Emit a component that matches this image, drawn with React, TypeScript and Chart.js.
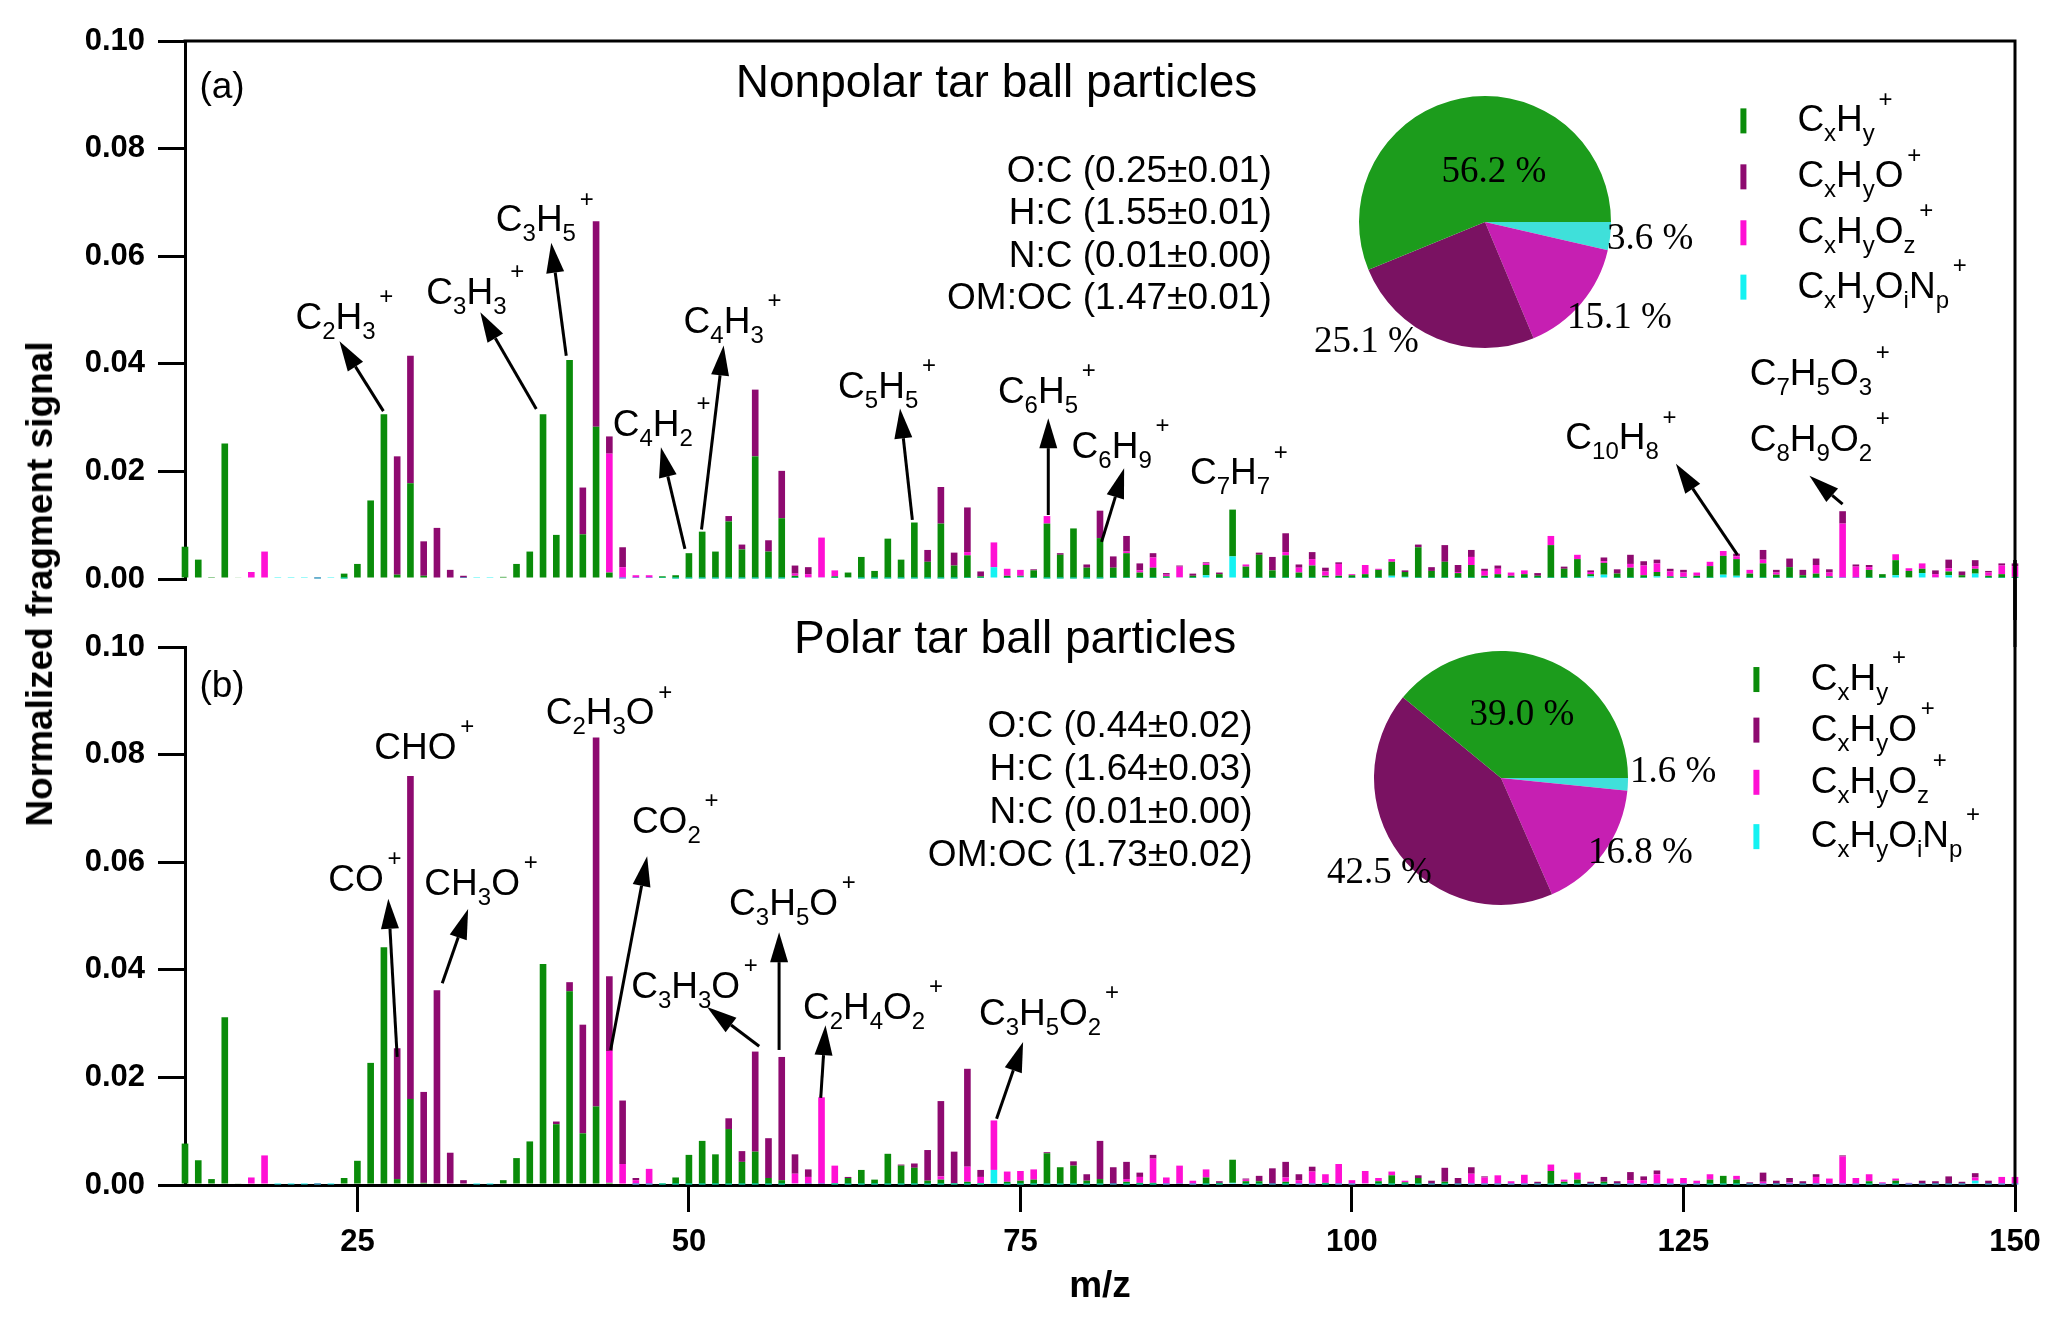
import { useEffect, useRef } from 'react';
import Chart from 'chart.js/auto';

const SANS = '"Liberation Sans", Arial, Helvetica, sans-serif';
const SERIF = '"Liberation Serif", "Times New Roman", serif';

// m/z axis (12 ... 150)
const MZ = Array.from({ length: 139 }, (_, i) => 12 + i);
const xTicks = [25, 50, 75, 100, 125, 150];
const yTicks = [0, 0.02, 0.04, 0.06, 0.08, 0.1];

const groupLabels = ['C_xH_y^+', 'C_xH_yO^+', 'C_xH_yO_z^+', 'C_xH_yO_iN_p^+'];
const barColors = ['#0a8c0a', '#8e0a70', '#ff10d4', '#14f2f2'];
const pieColors = ['#1c9c1c', '#7a1262', '#c61fb2', '#3fe0da'];
// bottom -> top order in each stacked bar: CxHyOiNp, CxHy, CxHyOz, CxHyO
const stackOrder = [3, 0, 2, 1];

// ---------- (a) nonpolar tar balls, m/z 12..150 ----------
const cxhyA = [
  0.0060, 0.0036, 0.0002, 0.0252, 0.0003, 0, 0, 0, 0, 0,
  0, 0, 0.0009, 0.0028, 0.0146, 0.0306, 0.0008, 0.0178, 0.0006, 0,
  0, 0, 0, 0, 0.0004, 0.0028, 0.0051, 0.0306, 0.0082, 0.0407,
  0.0083, 0.0283, 0.0012, 0, 0, 0, 0.0003, 0.0006, 0.0047, 0.0087,
  0.0050, 0.0106, 0.0054, 0.0227, 0.0050, 0.0112, 0.0004, 0, 0, 0.0003,
  0.0009, 0.0040, 0.0014, 0.0074, 0.0035, 0.0104, 0.0031, 0.0102, 0.0024, 0.0042,
  0.0003, 0, 0.0004, 0.0002, 0.0014, 0.0102, 0.0044, 0.0093, 0.0020, 0.0075,
  0.0019, 0.0046, 0.0010, 0.0019, 0.0003, 0, 0.0004, 0.0019, 0.0007, 0.0087,
  0.0021, 0.0043, 0.0014, 0.0042, 0.0010, 0.0023, 0.0003, 0.0004, 0.0005, 0.0007,
  0.0015, 0.0026, 0.0009, 0.0057, 0.0013, 0.0030, 0.0009, 0.0024, 0.0004, 0.0007,
  0.0004, 0.0007, 0.0004, 0.0061, 0.0017, 0.0035, 0.0004, 0.0022, 0.0008, 0.0019,
  0.0005, 0.0008, 0.0003, 0.0002, 0.0004, 0.0022, 0.0035, 0.0031, 0.0008, 0.0027,
  0.0006, 0.0020, 0.0005, 0.0008, 0.0003, 0, 0, 0.0015, 0.0007, 0.0028,
  0.0012, 0.0008, 0, 0.0007, 0.0004, 0.0009, 0.0004, 0.0007, 0.0002,
];
const cxhyoA = [
  0, 0, 0, 0, 0, 0, 0, 0, 0, 0,
  0.0002, 0, 0, 0, 0, 0, 0.0220, 0.0237, 0.0064, 0.0095,
  0.0017, 0.0004, 0, 0, 0, 0, 0, 0, 0, 0,
  0.0087, 0.0382, 0.0032, 0.0037, 0, 0, 0, 0, 0, 0,
  0, 0.0010, 0.0009, 0.0124, 0.0021, 0.0088, 0.0015, 0.0013, 0, 0,
  0, 0, 0, 0, 0, 0, 0.0022, 0.0068, 0.0024, 0.0083,
  0.0009, 0, 0, 0, 0.0002, 0, 0.0003, 0, 0.0006, 0.0051,
  0.0021, 0.0029, 0.0013, 0.0008, 0.0003, 0.0002, 0.0004, 0.0002, 0.0003, 0,
  0, 0.0004, 0.0025, 0.0035, 0.0006, 0.0013, 0.0007, 0.0003, 0, 0,
  0, 0, 0.0003, 0.0005, 0.0007, 0.0031, 0.0013, 0.0013, 0.0004, 0.0006,
  0, 0, 0.0005, 0, 0.0004, 0, 0.0003, 0.0007, 0.0008, 0.0017,
  0.0008, 0.0007, 0.0005, 0.0005, 0, 0, 0, 0.0005, 0, 0.0018,
  0.0005, 0.0016, 0.0010, 0.0012, 0.0006, 0.0023, 0.0004, 0.0004, 0, 0,
  0, 0, 0.0007, 0.0016, 0.0007, 0.0011, 0.0003, 0.0004, 0.0005,
];
const cxhyozA = [
  0, 0, 0, 0, 0, 0.0013, 0.0051, 0, 0, 0,
  0, 0, 0, 0, 0, 0, 0, 0, 0, 0,
  0, 0, 0, 0, 0, 0, 0, 0, 0, 0,
  0, 0, 0.0221, 0.0021, 0.0005, 0.0005, 0, 0, 0, 0,
  0, 0, 0, 0, 0, 0, 0.0004, 0.0006, 0.0074, 0.0011,
  0, 0, 0, 0, 0, 0, 0, 0, 0, 0.0006,
  0, 0.0046, 0.0013, 0.0011, 0, 0.0014, 0, 0, 0, 0,
  0, 0.0003, 0.0004, 0.0019, 0.0003, 0.0020, 0, 0.0003, 0, 0,
  0.0004, 0, 0, 0.0006, 0.0009, 0.0012, 0.0008, 0.0022, 0.0002, 0.0017,
  0.0002, 0.0005, 0, 0, 0, 0, 0.0002, 0.0015, 0.0009, 0.0010,
  0.0006, 0.0007, 0, 0.0017, 0, 0.0008, 0.0004, 0.0003, 0, 0.0007,
  0.0018, 0.0016, 0.0009, 0.0008, 0.0006, 0.0008, 0.0009, 0.0005, 0.0007, 0.0007,
  0.0004, 0, 0, 0.0016, 0.0007, 0.0101, 0.0021, 0.0005, 0, 0.0011,
  0.0005, 0.0010, 0.0006, 0.0006, 0, 0.0005, 0.0006, 0.0016, 0.0020,
];
const cxhyoinpA = [
  0, 0, 0, 0, 0, 0, 0, 0.0002, 0.0002, 0.0002,
  0.0001, 0.0002, 0.0001, 0, 0, 0, 0, 0, 0, 0,
  0, 0.0002, 0.0002, 0.0002, 0, 0, 0, 0, 0, 0,
  0, 0, 0, 0.0001, 0.0002, 0.0002, 0.0002, 0.0001, 0.0001, 0.0001,
  0.0001, 0.0001, 0.0001, 0.0001, 0.0001, 0.0001, 0.0002, 0.0003, 0.0003, 0.0002,
  0.0003, 0.0001, 0.0001, 0.0001, 0.0001, 0.0001, 0.0001, 0.0001, 0.0001, 0.0002,
  0.0002, 0.0022, 0.0002, 0.0004, 0.0002, 0.0001, 0.0001, 0.0001, 0.0001, 0.0001,
  0.0002, 0.0002, 0.0002, 0.0002, 0.0002, 0.0003, 0.0002, 0.0007, 0.0002, 0.0042,
  0.0002, 0.0002, 0.0002, 0.0002, 0.0002, 0.0002, 0.0003, 0.0002, 0.0002, 0.0002,
  0.0002, 0.0006, 0.0004, 0.0002, 0.0002, 0.0002, 0.0002, 0.0002, 0.0002, 0.0002,
  0.0002, 0.0002, 0.0002, 0.0002, 0.0002, 0.0002, 0.0005, 0.0008, 0.0002, 0.0002,
  0.0002, 0.0005, 0.0002, 0.0002, 0.0002, 0.0002, 0.0008, 0.0006, 0.0002, 0.0002,
  0.0002, 0.0002, 0.0002, 0.0002, 0.0002, 0.0002, 0.0002, 0.0002, 0.0002, 0.0007,
  0.0003, 0.0011, 0.0003, 0.0007, 0.0003, 0.0010, 0.0002, 0.0002, 0.0002,
];

// ---------- (b) polar tar balls, m/z 12..150 ----------
const cxhyB = [
  0.0077, 0.0046, 0.0011, 0.0312, 0.0003, 0, 0, 0, 0, 0,
  0, 0, 0.0013, 0.0045, 0.0227, 0.0442, 0.0011, 0.0160, 0.0004, 0,
  0, 0, 0, 0, 0.0009, 0.0050, 0.0081, 0.0411, 0.0113, 0.0360,
  0.0096, 0.0146, 0.0004, 0, 0, 0, 0.0002, 0.0013, 0.0055, 0.0081,
  0.0056, 0.0103, 0.0042, 0.0061, 0.0012, 0.0008, 0, 0, 0, 0.0002,
  0.0012, 0.0027, 0.0009, 0.0057, 0.0035, 0.0031, 0.0007, 0.0009, 0.0002, 0.0005,
  0.0002, 0, 0.0005, 0.0007, 0.0009, 0.0058, 0.0032, 0.0035, 0.0007, 0.0010,
  0, 0.0005, 0.0003, 0.0003, 0, 0, 0, 0.0013, 0.0003, 0.0043,
  0.0006, 0.0006, 0, 0.0005, 0, 0, 0.0003, 0, 0, 0,
  0.0006, 0.0017, 0.0004, 0.0012, 0, 0.0005, 0, 0, 0, 0,
  0, 0, 0, 0.0025, 0.0005, 0.0009, 0, 0.0005, 0, 0,
  0, 0, 0, 0, 0, 0.0009, 0.0016, 0.0009, 0, 0,
  0, 0, 0, 0, 0, 0, 0, 0.0006, 0, 0.0007,
  0, 0, 0, 0, 0, 0, 0, 0, 0,
];
const cxhyoB = [
  0, 0, 0, 0, 0, 0, 0, 0, 0, 0,
  0.0002, 0, 0, 0, 0, 0, 0.0243, 0.0600, 0.0169, 0.0362,
  0.0060, 0.0009, 0, 0, 0, 0, 0, 0, 0.0005, 0.0017,
  0.0202, 0.0686, 0.0139, 0.0118, 0.0004, 0, 0, 0, 0, 0,
  0, 0.0020, 0.0020, 0.0186, 0.0074, 0.0229, 0.0036, 0.0014, 0, 0,
  0.0002, 0, 0, 0, 0.0002, 0.0008, 0.0057, 0.0140, 0.0059, 0.0182,
  0.0013, 0, 0, 0, 0, 0.0002, 0, 0.0008, 0.0012, 0.0071,
  0.0032, 0.0032, 0.0008, 0.0007, 0, 0, 0, 0, 0.0003, 0,
  0.0002, 0.0010, 0.0030, 0.0029, 0.0011, 0.0009, 0, 0, 0, 0,
  0, 0, 0, 0.0005, 0.0007, 0.0026, 0.0012, 0.0012, 0.0002, 0,
  0, 0, 0.0005, 0, 0, 0, 0.0005, 0.0009, 0.0006, 0.0015,
  0.0007, 0.0007, 0, 0, 0, 0, 0, 0, 0.0004, 0.0017,
  0.0007, 0.0008, 0.0006, 0.0005, 0, 0.0002, 0, 0, 0, 0,
  0, 0.0007, 0.0006, 0.0015, 0.0005, 0.0008, 0.0007, 0, 0,
];
const cxhyozB = [
  0, 0, 0, 0, 0, 0.0014, 0.0055, 0, 0, 0,
  0, 0, 0, 0, 0, 0, 0, 0, 0, 0,
  0, 0, 0, 0, 0, 0, 0, 0, 0, 0,
  0, 0, 0.0245, 0.0039, 0.0008, 0.0029, 0, 0, 0, 0,
  0, 0, 0, 0, 0, 0, 0.0018, 0.0013, 0.0161, 0.0033,
  0, 0, 0, 0, 0, 0, 0, 0.0006, 0, 0.0028,
  0.0012, 0.0092, 0.0019, 0.0018, 0.0019, 0, 0, 0, 0, 0,
  0, 0.0005, 0.0011, 0.0045, 0.0013, 0.0034, 0.0007, 0.0015, 0, 0,
  0.0003, 0, 0, 0.0008, 0.0008, 0.0024, 0.0016, 0.0038, 0.0008, 0.0023,
  0.0006, 0.0007, 0.0003, 0, 0, 0, 0, 0.0020, 0.0013, 0.0017,
  0.0006, 0.0018, 0, 0.0012, 0.0004, 0.0013, 0, 0, 0, 0.0008,
  0.0008, 0.0019, 0.0011, 0.0012, 0.0007, 0.0010, 0, 0.0007, 0, 0.0005,
  0, 0.0004, 0, 0.0014, 0.0011, 0.0052, 0.0012, 0.0013, 0.0004, 0.0004,
  0.0003, 0, 0, 0, 0, 0.0006, 0, 0.0014, 0.0014,
];
const cxhyoinpB = [
  0, 0, 0, 0, 0, 0, 0, 0.0001, 0.0001, 0.0001,
  0.0001, 0.0001, 0, 0, 0, 0, 0, 0, 0, 0,
  0, 0, 0.0001, 0.0001, 0, 0, 0, 0, 0, 0,
  0, 0, 0, 0, 0.0001, 0.0001, 0.0001, 0.0001, 0.0001, 0.0001,
  0.0001, 0.0001, 0.0001, 0.0001, 0.0001, 0.0001, 0.0003, 0.0002, 0.0002, 0.0001,
  0.0001, 0.0001, 0.0001, 0.0001, 0.0001, 0.0001, 0.0001, 0.0001, 0.0001, 0.0001,
  0.0001, 0.0028, 0.0001, 0.0001, 0.0001, 0.0001, 0.0001, 0.0001, 0.0001, 0.0001,
  0.0001, 0.0001, 0.0001, 0.0001, 0.0001, 0.0002, 0.0001, 0.0001, 0.0001, 0.0004,
  0.0001, 0.0001, 0.0001, 0.0001, 0.0001, 0.0001, 0.0001, 0.0001, 0.0001, 0.0003,
  0.0001, 0.0001, 0.0001, 0.0001, 0.0001, 0.0001, 0.0001, 0.0001, 0.0001, 0.0001,
  0.0001, 0.0001, 0.0001, 0.0001, 0.0001, 0.0001, 0.0001, 0.0001, 0.0001, 0.0001,
  0.0001, 0.0001, 0.0001, 0.0001, 0.0001, 0.0001, 0.0001, 0.0001, 0.0001, 0.0001,
  0.0001, 0.0001, 0.0001, 0.0001, 0.0001, 0.0001, 0.0001, 0.0001, 0.0001, 0.0001,
  0.0001, 0.0001, 0.0001, 0.0001, 0.0001, 0.0008, 0.0001, 0.0001, 0.0001,
];

// pie fractions (%), in legend order
const pieA = [56.2, 25.1, 15.1, 3.6];
const pieB = [39.0, 42.5, 16.8, 1.6];

const statsA = ['O:C (0.25±0.01)', 'H:C (1.55±0.01)', 'N:C (0.01±0.00)', 'OM:OC (1.47±0.01)'];
const statsB = ['O:C (0.44±0.02)', 'H:C (1.64±0.03)', 'N:C (0.01±0.00)', 'OM:OC (1.73±0.02)'];

type Pt = [number, number];
interface Note { text: string; x: number; y: number; tail?: Pt; head?: Pt }

// fragment labels, placed in data units (m/z, signal)
const notesA: Note[] = [
  { text: 'C_2H_3^+', x: 20.33, y: 0.0465, tail: [26.96, 0.0312], head: [23.65, 0.0442] },
  { text: 'C_3H_3^+', x: 30.2, y: 0.0511, tail: [38.49, 0.0316], head: [34.27, 0.0496] },
  { text: 'C_3H_5^+', x: 35.44, y: 0.0646, tail: [40.75, 0.0415], head: [39.62, 0.0625] },
  { text: 'C_4H_2^+', x: 44.25, y: 0.0266, tail: [49.7, 0.0056], head: [47.89, 0.0245] },
  { text: 'C_4H_3^+', x: 49.6, y: 0.0458, tail: [50.95, 0.0092], head: [52.62, 0.0434] },
  { text: 'C_5H_5^+', x: 61.25, y: 0.0336, tail: [66.85, 0.011], head: [65.92, 0.0317] },
  { text: 'C_6H_5^+', x: 73.3, y: 0.0327, tail: [77.1, 0.0119], head: [77.1, 0.0299] },
  { text: 'C_6H_9^+', x: 78.86, y: 0.0225, tail: [81.12, 0.0069], head: [82.82, 0.0206] },
  { text: 'C_7H_7^+', x: 87.78, y: 0.0176 },
  { text: 'C_{10}H_8^+', x: 116.09, y: 0.0241, tail: [129.07, 0.0045], head: [124.43, 0.0214] },
  { text: 'C_7H_5O_3^+', x: 130.0, y: 0.0361 },
  { text: 'C_8H_9O_2^+', x: 130.0, y: 0.0238, tail: [137.0, 0.0139], head: [134.5, 0.0192] },
];
const notesB: Note[] = [
  { text: 'CHO^+', x: 26.28, y: 0.0792 },
  { text: 'C_2H_3O^+', x: 39.2, y: 0.0856 },
  { text: 'CO^+', x: 22.8, y: 0.0546, tail: [28.0, 0.0238], head: [27.33, 0.0532] },
  { text: 'CH_3O^+', x: 30.05, y: 0.0539, tail: [31.4, 0.0375], head: [33.35, 0.0513] },
  { text: 'CO_2^+', x: 45.7, y: 0.0654, tail: [44.1, 0.0251], head: [46.85, 0.0611] },
  { text: 'C_3H_5O^+', x: 53.03, y: 0.0502, tail: [56.8, 0.0251], head: [56.8, 0.047] },
  { text: 'C_3H_3O^+', x: 45.65, y: 0.0348, tail: [55.3, 0.0258], head: [51.37, 0.0331] },
  { text: 'C_2H_4O_2^+', x: 58.6, y: 0.0309, tail: [59.94, 0.0162], head: [60.3, 0.0297] },
  { text: 'C_3H_5O_2^+', x: 71.87, y: 0.0297, tail: [73.2, 0.0123], head: [75.2, 0.0266] },
];

interface Panel {
  series: number[][];
  tag: string;
  title: string;
  titleAt: Pt;
  tagAt: Pt;
  stats: string[];
  statsX: number;
  statsY: number[];
  legendX: [number, number];
  legendY: number[];
  notes: Note[];
  bottomAxis: boolean;
}

const panelA: Panel = {
  series: [cxhyA, cxhyoA, cxhyozA, cxhyoinpA],
  tag: '(a)',
  title: 'Nonpolar tar ball particles',
  titleAt: [73.2, 0.0895],
  tagAt: [13.09, 0.0894],
  stats: statsA,
  statsX: 93.95,
  statsY: [0.0738, 0.066, 0.058, 0.0502],
  legendX: [129.52, 133.59],
  legendY: [0.0832, 0.0728, 0.0624, 0.0523],
  notes: notesA,
  bottomAxis: false,
};
const panelB: Panel = {
  series: [cxhyB, cxhyoB, cxhyozB, cxhyoinpB],
  tag: '(b)',
  title: 'Polar tar ball particles',
  titleAt: [74.6, 0.0989],
  tagAt: [13.09, 0.0907],
  stats: statsB,
  statsX: 92.5,
  statsY: [0.0833, 0.0753, 0.0673, 0.0593],
  legendX: [130.5, 134.6],
  legendY: [0.092, 0.0826, 0.0729, 0.0628],
  notes: notesB,
  bottomAxis: true,
};

// text with _sub and ^sup pieces, e.g. "C_{10}H_8^+"
type Piece = { text: string; kind: 'base' | 'sub' | 'sup' };
const parseFormula = (src: string): Piece[] => {
  const out: Piece[] = [];
  let i = 0;
  while (i < src.length) {
    const c = src[i];
    if (c === '_' || c === '^') {
      let t: string;
      if (src[i + 1] === '{') {
        const j = src.indexOf('}', i + 2);
        t = src.slice(i + 2, j);
        i = j + 1;
      } else {
        t = src[i + 1];
        i += 2;
      }
      out.push({ text: t, kind: c === '_' ? 'sub' : 'sup' });
    } else {
      let j = i;
      while (j < src.length && src[j] !== '_' && src[j] !== '^') j++;
      out.push({ text: src.slice(i, j), kind: 'base' });
      i = j;
    }
  }
  return out;
};

const drawRich = (
  ctx: CanvasRenderingContext2D,
  src: string,
  x: number,
  y: number,
  size: number,
  align: 'left' | 'center' | 'right' = 'left',
  weight = '',
  family = SANS,
) => {
  const pieces = parseFormula(src);
  const fontFor = (k: Piece['kind']) => `${weight} ${k === 'base' ? size : Math.round(size * 0.64)}px ${family}`;
  const gap = (k: Piece['kind']) => (k === 'sup' ? size * 0.1 : 0);
  let w = 0;
  pieces.forEach((p) => {
    ctx.font = fontFor(p.kind);
    w += gap(p.kind) + ctx.measureText(p.text).width;
  });
  let cx = align === 'center' ? x - w / 2 : align === 'right' ? x - w : x;
  ctx.textAlign = 'left';
  ctx.textBaseline = 'alphabetic';
  pieces.forEach((p) => {
    ctx.font = fontFor(p.kind);
    cx += gap(p.kind);
    const dy = p.kind === 'sub' ? size * 0.27 : p.kind === 'sup' ? -size * 0.67 : 0;
    ctx.fillText(p.text, cx, y + dy);
    cx += ctx.measureText(p.text).width;
  });
};

const drawArrow = (ctx: CanvasRenderingContext2D, x1: number, y1: number, x2: number, y2: number) => {
  const ang = Math.atan2(y2 - y1, x2 - x1);
  const len = 30;
  const half = 9;
  const bx = x2 - len * Math.cos(ang);
  const by = y2 - len * Math.sin(ang);
  ctx.beginPath();
  ctx.moveTo(x1, y1);
  ctx.lineTo(bx, by);
  ctx.lineWidth = 3;
  ctx.stroke();
  ctx.beginPath();
  ctx.moveTo(x2, y2);
  ctx.lineTo(bx + half * Math.sin(ang), by - half * Math.cos(ang));
  ctx.lineTo(bx - half * Math.sin(ang), by + half * Math.cos(ang));
  ctx.closePath();
  ctx.fill();
};

const decorPlugin = (panel: Panel) => ({
  id: 'panelDecor',
  afterDraw(chart: any) {
    const { ctx, chartArea: a, scales } = chart;
    const px = (v: number) => scales.x.getPixelForValue(v);
    const py = (v: number) => scales.y.getPixelForValue(v);
    ctx.save();
    ctx.strokeStyle = '#000';
    ctx.fillStyle = '#000';
    ctx.lineWidth = 3;

    // frame: top line on (a); right line runs through both panels
    ctx.beginPath();
    if (!panel.bottomAxis) {
      ctx.moveTo(a.left - 1.5, a.top);
      ctx.lineTo(a.right, a.top);
      ctx.lineTo(a.right, chart.height);
    } else {
      ctx.moveTo(a.right, 0);
      ctx.lineTo(a.right, a.bottom);
    }
    ctx.stroke();
    // keep the right edge solid between the panels
    ctx.fillRect(a.right - 1.5, panel.bottomAxis ? 0 : a.bottom - 2, 3, panel.bottomAxis ? a.top : chart.height - a.bottom + 2);

    panel.notes.forEach((n) => {
      if (n.tail && n.head) drawArrow(ctx, px(n.tail[0]), py(n.tail[1]), px(n.head[0]), py(n.head[1]));
      drawRich(ctx, n.text, px(n.x), py(n.y), 37);
    });

    drawRich(ctx, panel.title, px(panel.titleAt[0]), py(panel.titleAt[1]), 46, 'center');
    drawRich(ctx, panel.tag, px(panel.tagAt[0]), py(panel.tagAt[1]), 37);
    panel.stats.forEach((s, i) => drawRich(ctx, s, px(panel.statsX), py(panel.statsY[i]), 37, 'right'));

    groupLabels.forEach((lab, i) => {
      const base = py(panel.legendY[i]);
      ctx.fillStyle = barColors[i];
      ctx.fillRect(px(panel.legendX[0]) - 3, base - 23, 6, 25);
      ctx.fillStyle = '#000';
      drawRich(ctx, lab, px(panel.legendX[1]), base, 37);
    });

    if (panel.bottomAxis) {
      drawRich(ctx, 'm/z', (a.left + a.right) / 2, a.bottom + 112, 37, 'center', 'bold');
    }
    ctx.restore();
  },
});

const buildBars = (panel: Panel, topPad: number) => ({
  type: 'bar' as const,
  data: {
    datasets: stackOrder.map((k) => ({
      label: groupLabels[k],
      data: MZ.map((m, i) => ({ x: m, y: panel.series[k][i] })),
      backgroundColor: barColors[k],
      borderWidth: 0,
      barPercentage: 0.5,
      categoryPercentage: 1,
      clip: false as const,
    })),
  },
  options: {
    responsive: false,
    animation: false as const,
    events: [],
    layout: {
      padding: { top: topPad, right: 52, bottom: panel.bottomAxis ? 0 : 41, left: 0 },
    },
    plugins: { legend: { display: false }, tooltip: { enabled: false } },
    scales: {
      x: {
        type: 'linear' as const,
        min: 12,
        max: 150,
        stacked: true,
        offset: false,
        display: panel.bottomAxis,
        afterFit: (s: any) => {
          s.height = panel.bottomAxis ? 139 : 0;
        },
        afterBuildTicks: (s: any) => {
          s.ticks = xTicks.map((v) => ({ value: v }));
        },
        ticks: {
          color: '#000',
          padding: 12,
          maxRotation: 0,
          autoSkip: false,
          font: { family: SANS, size: 31, weight: 'bold' as const },
        },
        grid: { offset: false, drawOnChartArea: false, color: '#000', lineWidth: 3, tickLength: 27 },
        border: { color: '#000', width: 3 },
      },
      y: {
        stacked: true,
        min: 0,
        max: 0.1,
        afterFit: (s: any) => {
          s.width = 185;
        },
        afterBuildTicks: (s: any) => {
          s.ticks = yTicks.map((v) => ({ value: v }));
        },
        ticks: {
          color: '#000',
          padding: 13,
          callback: (v: any) => Number(v).toFixed(2),
          font: { family: SANS, size: 31, weight: 'bold' as const },
        },
        grid: { drawOnChartArea: false, color: '#000', lineWidth: 3, tickLength: 27 },
        border: { color: '#000', width: 3 },
      },
    },
  },
  plugins: [decorPlugin(panel)],
});

interface PieLabel { dx: number; dy: number; align: 'left' | 'center' }
// label offsets from the pie centre, in legend order
const pieLabelPosA: PieLabel[] = [
  { dx: 9, dy: -40, align: 'center' },
  { dx: -171, dy: 130, align: 'left' },
  { dx: 82, dy: 106, align: 'left' },
  { dx: 122, dy: 27, align: 'left' },
];
const pieLabelPosB: PieLabel[] = [
  { dx: 21, dy: -53, align: 'center' },
  { dx: -174, dy: 105, align: 'left' },
  { dx: 87, dy: 85, align: 'left' },
  { dx: 129, dy: 4, align: 'left' },
];

const buildPie = (values: number[], pos: PieLabel[], padding: { left: number; top: number; right: number; bottom: number }) => {
  const order = [3, 2, 1, 0]; // clockwise from 3 o'clock
  return {
    type: 'pie' as const,
    data: {
      labels: order.map((k) => groupLabels[k]),
      datasets: [
        {
          data: order.map((k) => values[k]),
          backgroundColor: order.map((k) => pieColors[k]),
          borderWidth: 0,
        },
      ],
    },
    options: {
      responsive: false,
      animation: false as const,
      events: [],
      rotation: 90,
      layout: { padding },
      plugins: { legend: { display: false }, tooltip: { enabled: false } },
    },
    plugins: [
      {
        id: 'pieText',
        afterDraw(chart: any) {
          const arc = chart.getDatasetMeta(0).data[0];
          const { ctx } = chart;
          ctx.save();
          ctx.fillStyle = '#000';
          ctx.font = `37px ${SERIF}`;
          ctx.textBaseline = 'alphabetic';
          values.forEach((v, i) => {
            ctx.textAlign = pos[i].align;
            ctx.fillText(`${v.toFixed(1)} %`, arc.x + pos[i].dx, arc.y + pos[i].dy);
          });
          ctx.restore();
        },
      },
    ],
  };
};

export default function App() {
  const aRef = useRef<HTMLCanvasElement>(null);
  const bRef = useRef<HTMLCanvasElement>(null);
  const pieARef = useRef<HTMLCanvasElement>(null);
  const pieBRef = useRef<HTMLCanvasElement>(null);

  useEffect(() => {
    document.body.style.margin = '0';
    document.body.style.overflow = 'hidden';
    if (!aRef.current || !bRef.current || !pieARef.current || !pieBRef.current) return;
    const charts = [
      new Chart(aRef.current, buildBars(panelA, 41) as any),
      new Chart(bRef.current, buildBars(panelB, 87) as any),
      new Chart(pieARef.current, buildPie(pieA, pieLabelPosA, { left: 59, top: 36, right: 109, bottom: 32 }) as any),
      new Chart(pieBRef.current, buildPie(pieB, pieLabelPosB, { left: 74, top: 41, right: 112, bottom: 25 }) as any),
    ];
    return () => charts.forEach((c) => c.destroy());
  }, []);

  return (
    <div style={{ position: 'relative', width: 2067, height: 1324, background: '#fff', overflow: 'hidden' }}>
      <canvas ref={aRef} width={2067} height={620} style={{ position: 'absolute', left: 0, top: 0 }} />
      <canvas ref={bRef} width={2067} height={764} style={{ position: 'absolute', left: 0, top: 560 }} />
      <canvas ref={pieARef} width={420} height={320} style={{ position: 'absolute', left: 1300, top: 60 }} />
      <canvas ref={pieBRef} width={440} height={320} style={{ position: 'absolute', left: 1300, top: 610 }} />
      <div
        style={{
          position: 'absolute',
          left: 40,
          top: 584,
          transform: 'translate(-50%, -50%) rotate(-90deg)',
          font: `bold 37px ${SANS}`,
          whiteSpace: 'nowrap',
          color: '#000',
        }}
      >
        Normalized fragment signal
      </div>
    </div>
  );
}
